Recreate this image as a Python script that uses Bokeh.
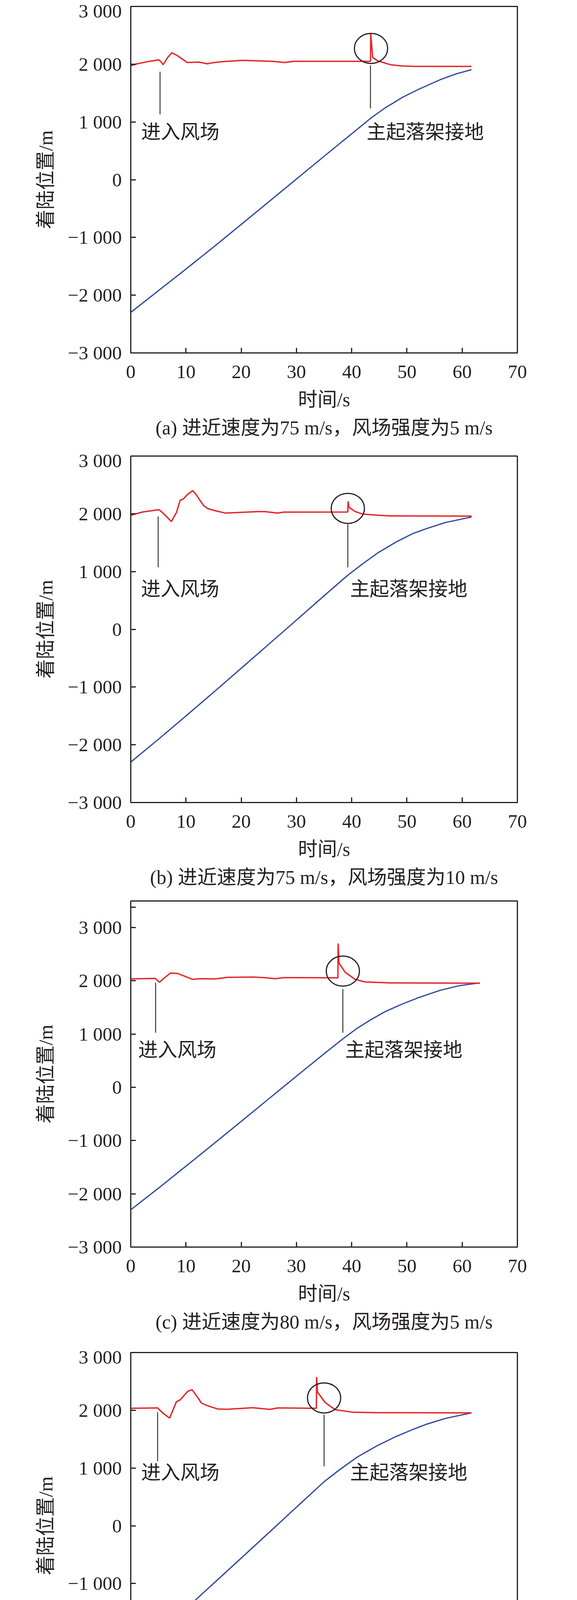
from bokeh.plotting import figure
from bokeh.models import Range1d, FixedTicker, Title, Legend, LegendItem
from bokeh.layouts import column
from bokeh.embed import file_html
from bokeh.resources import INLINE
from bokeh.core.properties import value

# ---------------- data ----------------
x_ticks = [0, 10, 20, 30, 40, 50, 60, 70]
y_ticks = [-3000, -2000, -1000, 0, 1000, 2000, 3000]
y_tick_labels = ["\u22123 000", "\u22122 000", "\u22121 000", "0", "1 000", "2 000", "3 000"]
y_top = [3000, 3000, 3500, 3000]
extra_tick_c = 3380   # small unlabeled tick near the top of panel (c)

x_title = "时间/s"
y_title = "着陆位置/m"
label_enter = "进入风场"
label_touch = "主起落架接地"
legend_red = "实时预测着陆位置"
legend_blue = "飞机动态飞行位置"

captions = [
    "(a) 进近速度为75 m/s，风场强度为5 m/s",
    "(b) 进近速度为75 m/s，风场强度为10 m/s",
    "(c) 进近速度为80 m/s，风场强度为5 m/s",
    "(d) 进近速度为80 m/s，风场强度为10 m/s",
]

# (a) predicted landing position (red)
t_red_a = [0, 1.24, 2.15, 3.5, 5.09, 5.5, 5.86, 6.67, 7.44, 8.5, 9.4, 10.2, 12.3, 13.9, 14.8, 16.6, 18.9, 20.2,
           25.7, 27.9, 29.5, 43.4, 43.45, 43.8, 44.7, 47.0, 49.2, 51.7, 61.7]
v_red_a = [1975, 2009, 2025, 2052, 2075, 2040, 1991, 2115, 2199, 2144, 2085, 2030, 2036, 2007, 2025, 2045, 2058, 2067,
           2050, 2030, 2050, 2050, 2533, 2115, 2058, 1991, 1968, 1961, 1961]
# (a) aircraft position (blue)
t_blue_a = [0, 5, 10, 15, 20, 25, 30, 35, 40, 43.6, 46, 49.2, 52, 56, 59, 61.7]
v_blue_a = [-2298, -1923, -1548, -1165, -775, -382, 12, 405, 795, 1076, 1240, 1426, 1560, 1731, 1835, 1905]

# (b)
t_red_b = [0, 2.15, 5.09, 5.77, 6.6, 7.35, 8.26, 8.94, 9.5, 10.3, 11.2, 11.9, 12.6, 13.2, 13.9, 15.3, 17.1, 19.8,
           23.0, 24.3, 26.6, 27.7, 39.3, 39.35, 39.5, 40.6, 42.0, 44.7, 47.0, 61.7]
v_red_b = [1975, 2031, 2072, 2020, 1940, 1866, 2020, 2234, 2256, 2335, 2403, 2324, 2223, 2143, 2092, 2053, 2013, 2024,
           2038, 2038, 2013, 2029, 2031, 2216, 2114, 2040, 1995, 1975, 1963, 1960]
t_blue_b = [0, 5, 10, 15, 20, 25, 30, 35, 39.3, 42, 44.7, 48, 51, 53.7, 57, 61.7]
v_blue_b = [-2300, -1905, -1500, -1090, -675, -258, 160, 580, 937, 1135, 1321, 1510, 1655, 1749, 1850, 1945]

# (c)
t_red_c = [0, 4.41, 5.2, 6.2, 7.2, 8.5, 11.2, 12.6, 15.3, 17.5, 22.1, 24.3, 26.1, 27.7,
           37.5, 37.55, 37.7, 38.8, 40.6, 42.4, 47.0, 63.2]
v_red_c = [2037, 2046, 1973, 2066, 2146, 2139, 2029, 2040, 2037, 2066, 2071, 2061, 2040, 2061,
           2056, 2701, 2335, 2163, 2029, 1980, 1961, 1956]
t_blue_c = [0, 5, 10, 15, 20, 25, 30, 35, 38.4, 41, 43.3, 46, 49.2, 52, 56, 59.5, 63.2]
v_blue_c = [-2300, -1895, -1480, -1062, -640, -215, 210, 630, 910, 1110, 1260, 1420, 1566, 1680, 1822, 1910, 1961]

# (d)
t_red_d = [0, 4.86, 5.77, 7.04, 8.26, 8.94, 10.3, 11.1, 12.1, 12.8, 13.9, 15.7, 17.5, 22.1, 25.2, 26.6,
           33.6, 33.65, 33.8, 35.2, 37.0, 40.2, 44.7, 61.7]
v_red_d = [2034, 2041, 1955, 1865, 2147, 2181, 2327, 2356, 2226, 2124, 2079, 2023, 2018, 2045, 2016, 2041,
           2034, 2575, 2316, 2135, 2011, 1966, 1959, 1955]
t_blue_d = [0, 5, 10, 15, 20, 25, 30, 35, 37.7, 41, 44.7, 48, 51, 53.7, 57, 61.7]
v_blue_d = [-2300, -1870, -1435, -998, -560, -120, 322, 762, 963, 1190, 1391, 1545, 1665, 1763, 1860, 1955]

# annotation anchors per panel
enter_line = [(5.3, 1870, 1132), (4.96, 1953, 1073), (4.5, 1963, 1026), (4.86, 1966, 1120)]
touch_line = [(43.4, 1980, 1234), (39.3, 1817, 1073), (38.4, 1846, 1026), (35.0, 1923, 1030)]
circle_at = [(43.5, 2273), (39.3, 2094), (38.4, 2183), (35.0, 2214)]
enter_text_at = [(1.9, 827), (1.85, 700), (1.35, 703), (1.9, 922)]
touch_text_at = [(42.7, 827), (39.7, 700), (38.8, 703), (39.7, 922)]

# ---------------- style ----------------
FONT = "'Liberation Serif', 'Noto Sans CJK SC'"
INK = "#231F20"
RED = "#E3262B"
BLUE = "#2F4B9E"

frame_heights = [887, 887, 886, 887]
bottom_borders = [248, 236, 254, 226]

series = [
    (t_red_a, v_red_a, t_blue_a, v_blue_a),
    (t_red_b, v_red_b, t_blue_b, v_blue_b),
    (t_red_c, v_red_c, t_blue_c, v_blue_c),
    (t_red_d, v_red_d, t_blue_d, v_blue_d),
]

figs = []
for i in range(4):
    tr, vr, tb, vb = series[i]
    p = figure(frame_width=989, frame_height=frame_heights[i],
               min_border_left=320, min_border_right=151,
               min_border_top=16, min_border_bottom=bottom_borders[i],
               x_range=Range1d(0, 70), y_range=Range1d(-3000, y_top[i]),
               output_backend="svg", toolbar_location=None, title=None)
    p.background_fill_color = "white"
    p.border_fill_color = "white"
    p.outline_line_color = INK
    p.outline_line_width = 3
    p.xgrid.visible = False
    p.ygrid.visible = False

    for ax in (p.xaxis[0], p.yaxis[0]):
        ax.axis_line_color = INK
        ax.axis_line_width = 3
        ax.major_tick_line_color = INK
        ax.major_tick_line_width = 3
        ax.major_tick_in = 13
        ax.major_tick_out = 0
        ax.minor_tick_in = 0
        ax.minor_tick_out = 0
        ax.major_label_text_font = FONT
        ax.major_label_text_font_size = "49px"
        ax.major_label_text_color = INK
        ax.axis_label_text_font = FONT
        ax.axis_label_text_font_size = "50px"
        ax.axis_label_text_font_style = "normal"
        ax.axis_label_text_color = INK

    p.xaxis.ticker = FixedTicker(ticks=x_ticks)
    p.xaxis.major_label_standoff = 32
    p.xaxis.axis_label = x_title
    p.xaxis.axis_label_standoff = 24

    yt = list(y_ticks)
    overrides = {k: s for k, s in zip(y_ticks, y_tick_labels)}
    if y_top[i] > 3000:
        yt.append(extra_tick_c)
        overrides[extra_tick_c] = ""
    p.yaxis.ticker = FixedTicker(ticks=yt)
    p.yaxis.major_label_overrides = overrides
    p.yaxis.major_label_standoff = 23
    p.yaxis.axis_label = y_title
    p.yaxis.axis_label_standoff = 26

    p.line(tb, vb, line_color=BLUE, line_width=3.2)
    p.line(tr, vr, line_color=RED, line_width=3.5)

    ex, ey0, ey1 = enter_line[i]
    tx, ty0, ty1 = touch_line[i]
    p.segment(x0=[ex, tx], y0=[ey0, ty0], x1=[ex, tx], y1=[ey1, ty1], line_color=INK, line_width=2.2)
    cx, cy = circle_at[i]
    p.ellipse(x=[cx], y=[cy], width=85, height=77, width_units="screen", height_units="screen",
              fill_color=None, line_color=INK, line_width=3)
    p.text(x=[enter_text_at[i][0], touch_text_at[i][0]], y=[enter_text_at[i][1], touch_text_at[i][1]],
           text=[label_enter, label_touch], text_font=value(FONT), text_font_size="50px",
           text_color=INK, text_baseline="middle", text_align="left")

    cap = Title(text=captions[i], align="center", text_font=FONT, text_font_size="50px",
                text_font_style="normal", text_color=INK, standoff=22)
    p.add_layout(cap, "below")
    figs.append(p)

# ---------------- legend strip ----------------
lg = figure(frame_width=989, frame_height=60, min_border_left=334, min_border_right=137,
            min_border_top=0, min_border_bottom=0,
            x_range=Range1d(0, 1), y_range=Range1d(0, 1),
            output_backend="svg", toolbar_location=None, title=None)
lg.axis.visible = False
lg.xgrid.visible = False
lg.ygrid.visible = False
lg.outline_line_color = None
lg.background_fill_color = "white"
lg.border_fill_color = "white"
lr = lg.line([], [], line_color=RED, line_width=4)
lb = lg.line([], [], line_color=BLUE, line_width=4)
leg = Legend(items=[LegendItem(label=legend_red, renderers=[lr]),
                    LegendItem(label=legend_blue, renderers=[lb])],
             orientation="horizontal", location="center",
             label_text_font=FONT, label_text_font_size="50px", label_text_color=INK,
             glyph_width=88, glyph_height=50, label_standoff=24, spacing=88,
             padding=0, margin=0, border_line_color=None, background_fill_alpha=0)
lg.add_layout(leg, "center")
figs.append(lg)

layout = column(*figs, spacing=0)
open("out.html", "w").write(file_html(layout, INLINE))
